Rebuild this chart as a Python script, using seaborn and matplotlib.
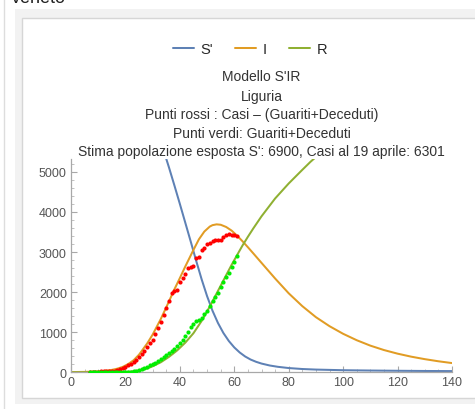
import matplotlib
matplotlib.use("Agg")
import matplotlib.pyplot as plt
from matplotlib.patches import Rectangle
from matplotlib.lines import Line2D
import seaborn as sns
import pandas as pd
import numpy as np

# ---- data ----
# model curves (day, value)
t_S = [0, 10, 20, 25, 30, 32, 34, 36, 38, 40, 42, 44, 46, 48, 50, 52, 54, 56, 58, 60, 62, 64, 66, 68,
       70, 73, 76, 80, 85, 90, 100, 110, 120, 130, 140]
S_model = [6900, 6890, 6800, 6650, 6250, 5910, 5540, 5110, 4660, 4200, 3730, 3260, 2780, 2320, 1900,
           1535, 1230, 980, 780, 620, 494, 394, 318, 262, 218, 170, 137, 106, 82, 68, 52, 44, 38, 33, 30]

t_I = [0, 5, 10, 13, 15, 17, 19, 21, 23, 25, 28, 30, 33, 35, 38, 40, 42, 45, 47, 49, 51, 52, 53.5,
       55, 57, 59, 61, 63, 65, 67, 70, 75, 80, 85, 90, 95, 100, 105, 110, 115, 120, 125, 130, 135, 140]
I_model = [5, 10, 22, 40, 60, 90, 135, 205, 300, 440, 720, 940, 1330, 1620, 2070, 2350, 2640, 3053,
           3317, 3511, 3635, 3670, 3690, 3680, 3625, 3535, 3410, 3270, 3120, 2965, 2730, 2340, 1970,
           1650, 1375, 1150, 960, 800, 665, 555, 465, 390, 328, 275, 230]

t_R = [0, 10, 15, 20, 22, 25, 28, 30, 33, 36, 39, 42, 45, 48, 51, 53, 55, 57, 59, 61, 63, 65, 67, 70,
       75, 80, 85, 88, 92]
R_model = [0, 1, 4, 12, 20, 45, 95, 150, 250, 385, 545, 740, 975, 1280, 1640, 1900, 2160, 2420, 2678,
           2920, 3160, 3380, 3590, 3890, 4335, 4710, 5050, 5250, 5490]

# observed data (days 7..61)
days = list(range(7, 62))
rossi = [5, 10, 10, 15, 20, 20, 25, 30, 35, 40, 60, 75, 100, 125, 170, 210, 260, 300, 380, 450,
         530, 620, 720, 800, 950, 1100, 1250, 1420, 1600, 1790, 1990, 2020, 2050, 2250, 2340, 2460,
         2600, 2620, 2640, 2860, 2870, 3060, 3110, 3200, 3220, 3270, 3290, 3300, 3310, 3380, 3430,
         3440, 3430, 3420, 3410]
verdi = [0, 0, 0, 0, 0, 2, 2, 3, 4, 5, 5, 6, 8, 10, 10, 15, 25, 40, 60, 80,
         110, 140, 180, 215, 240, 280, 330, 380, 420, 480, 540, 580, 650, 740, 810, 900,
         1000, 1120, 1200, 1280, 1300, 1360, 1450, 1540, 1650, 1790, 1880, 1990, 2120, 2250, 2380,
         2480, 2620, 2750, 2890]

legend_labels = ["S'", "I", "R"]
title_lines = ["Modello S'IR", "Liguria", "Punti rossi : Casi \u2013 (Guariti+Deceduti)",
               "Punti verdi: Guariti+Deceduti",
               "Stima popolazione esposta S': 6900, Casi al 19 aprile: 6301"]
x_ticks = [0, 20, 40, 60, 80, 100, 120, 140]
y_ticks = [0, 1000, 2000, 3000, 4000, 5000]

# ---- style ----
sns.set_style("white")
plt.rcParams['font.family'] = ['Liberation Sans', 'DejaVu Sans']

c_S, c_I, c_R = "#5E81B5", "#E19C24", "#8FB032"

W, H = 475, 410
fig = plt.figure(figsize=(W / 100, H / 100), dpi=100)
fig.patch.set_facecolor("white")

def px(x0, y0, w, h):
    return (x0 / W, 1 - (y0 + h) / H, w / W, h / H)

# background panels
fig.add_artist(Rectangle(px(15, 10, 460, 395)[:2], 460 / W, 395 / H, transform=fig.transFigure,
                         facecolor="#f2f2f2", edgecolor="none", zorder=-3))
fig.add_artist(Rectangle(px(22, 19, 460, 380)[:2], 460 / W, 380 / H, transform=fig.transFigure,
                         facecolor="white", edgecolor="#d6d6d6", lw=1.0, zorder=-2))
fig.add_artist(Line2D([3.5 / W, 3.5 / W], [0, 1], transform=fig.transFigure, color="#dddddd", lw=1))
fig.text(10 / W, 1 - 3 / H, "Veneto", fontsize=13, color="#222222", va="baseline", ha="left")

ax = fig.add_axes(px(71, 160, 381, 213.3))
ax.set_facecolor("none")

df_S = pd.DataFrame({"t": t_S, "v": S_model})
df_I = pd.DataFrame({"t": t_I, "v": I_model})
df_R = pd.DataFrame({"t": t_R, "v": R_model})
df_obs = pd.DataFrame({"t": days, "rossi": rossi, "verdi": verdi})

lw = 1.45
for df, c in ((df_S, c_S), (df_I, c_I), (df_R, c_R)):
    sns.lineplot(data=df, x="t", y="v", ax=ax, color=c, lw=lw, sort=True, estimator=None,
                 solid_joinstyle="round", solid_capstyle="round")
sns.scatterplot(data=df_obs, x="t", y="rossi", ax=ax, color="#ff0000", s=9, linewidth=0, zorder=5)
sns.scatterplot(data=df_obs, x="t", y="verdi", ax=ax, color="#00ee00", s=9, linewidth=0, zorder=5)

ax.set_xlim(0, 140)
ax.set_ylim(0, 5320)
ax.set_xlabel("")
ax.set_ylabel("")
ax.set_xticks(x_ticks)
ax.set_yticks(y_ticks)
ax.set_xticks(np.arange(0, 141, 5), minor=True)
ax.set_yticks(np.arange(0, 5301, 200), minor=True)
for s in ["top", "right"]:
    ax.spines[s].set_visible(False)
for s in ["left", "bottom"]:
    ax.spines[s].set_color("#a8a8a8")
    ax.spines[s].set_linewidth(0.9)
ax.tick_params(which="major", direction="in", length=4, width=0.8, color="#a8a8a8",
               labelsize=9, labelcolor="#555555", pad=3)
ax.tick_params(which="minor", direction="in", length=2, width=0.6, color="#b8b8b8")
ax.tick_params(axis="x", which="both", bottom=True)
ax.tick_params(axis="y", which="both", left=True)

# title lines
cx = 261.5 / W
ys = [77, 96.5, 115, 133.5, 152]
for line, yy in zip(title_lines, ys):
    fig.text(cx, 1 - yy / H, line, ha="center", va="center", fontsize=10, color="#333333")

# legend
handles = [Line2D([], [], color=c, lw=lw) for c in (c_S, c_I, c_R)]
fig.legend(handles, legend_labels, loc="center", bbox_to_anchor=(250 / W, 1 - 50 / H), ncol=3,
           frameon=False, handlelength=1.45, handletextpad=0.45, columnspacing=1.5,
           prop={"size": 10.5, "family": "Liberation Sans"})

fig.savefig("out.png", dpi=100, facecolor=fig.get_facecolor())
